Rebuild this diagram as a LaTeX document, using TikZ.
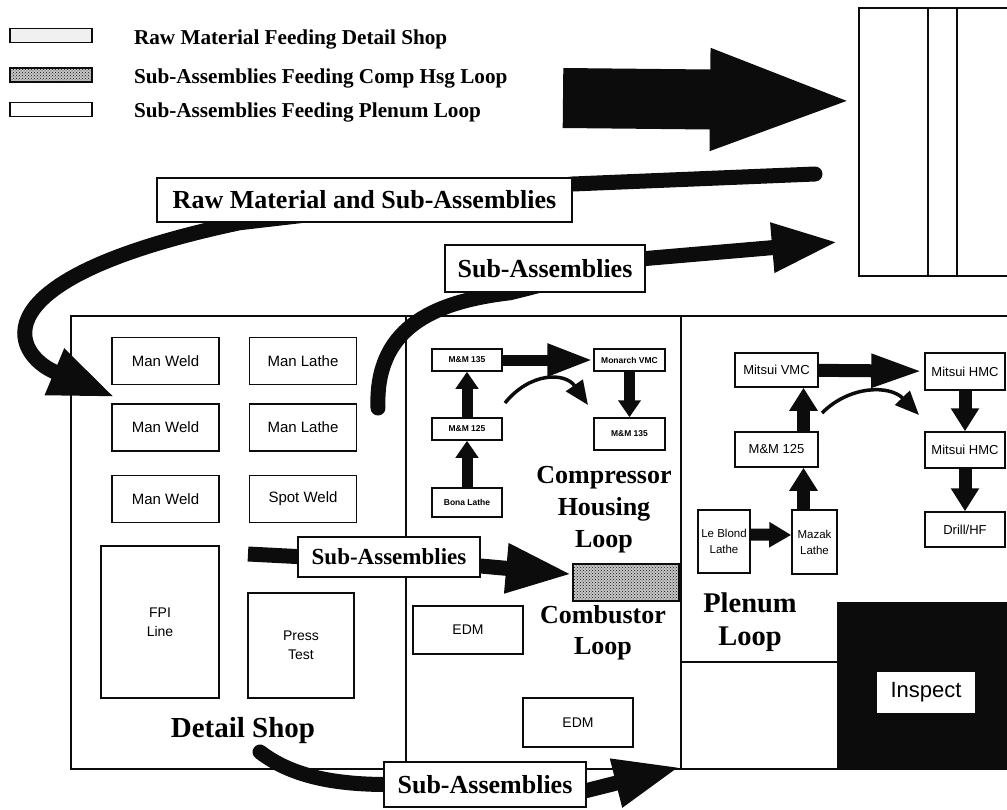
\documentclass[tikz,border=0pt]{standalone}
\usepackage{fontspec}
\setmainfont{Liberation Serif}
\newfontfamily\machfont{Liberation Sans}
\usepackage{tikz}
\usetikzlibrary{arrows.meta,positioning,patterns,calc}
\pgfdeclarelayer{background}
\pgfsetlayers{background,main}
\definecolor{inkblack}{RGB}{12,12,12}
\definecolor{speckgray}{RGB}{240,240,240}
\tikzset{
  zonebox/.style={rectangle, draw=inkblack, line width=2pt, inner sep=0pt, anchor=north west},
  machine/.style={rectangle, draw=inkblack, line width=1.5pt, fill=white, align=center, inner sep=0pt, font=\machfont\fontsize{15}{20}\selectfont},
  tinymachine/.style={machine, font=\machfont\bfseries\fontsize{8.5}{10}\selectfont},
  plenmachine/.style={machine, font=\machfont\fontsize{13}{16}\selectfont},
  flowlabel/.style={rectangle, draw=inkblack, line width=1.5pt, fill=white, inner xsep=10pt, font=\bfseries\fontsize{26}{28}\selectfont},
  zonetext/.style={align=center, inner sep=0pt, font=\bfseries\fontsize{26}{32}\selectfont},
  legendbox/.style={rectangle, draw=inkblack, line width=1.6pt, minimum width=82pt, minimum height=14pt, inner sep=0pt},
  legendtext/.style={anchor=west, inner sep=0pt, font=\bfseries\fontsize{21.2}{23}\selectfont},
  dotfill/.style={preaction={fill=black!22}, pattern=crosshatch dots, pattern color=inkblack},
  flow/.style={draw=inkblack, line width=15pt, line join=round, -{Triangle[length=66pt,width=46pt]}},
  blockarrow/.style={draw=inkblack, line width=11pt, -{Triangle[length=17pt,width=22pt]}},
  plenarrow/.style={draw=inkblack, line width=13pt, -{Triangle[length=23pt,width=27pt]}},
  thinarrow/.style={draw=inkblack, line width=3.5pt, -{Triangle[length=24pt,width=20pt]}}
}
\begin{document}
\begin{tikzpicture}[x=1pt, y=-1pt]
\useasboundingbox (0,0) rectangle (1007,809);
\clip (0,0) rectangle (1007,809);
% legend
\node[legendbox, fill=speckgray] (leg1) at (51,35.5) {};
\node[legendbox, dotfill] (leg2) at (51,75) {};
\node[legendbox] (leg3) at (51,109.5) {};
\node[legendtext, right=41pt of leg1, yshift=-4pt] (legt1) {Raw Material Feeding Detail Shop};
\node[legendtext, right=41pt of leg2, yshift=-3pt] (legt2) {Sub-Assemblies Feeding Comp Hsg Loop};
\node[legendtext, right=41pt of leg3, yshift=-3pt] (legt3) {Sub-Assemblies Feeding Plenum Loop};
% store and shop floor
\node[zonebox, minimum width=154pt, minimum height=268pt] (store) at (858,7) {};
\draw[inkblack, line width=2pt] ([xshift=70pt]store.north west) -- ([xshift=70pt]store.south west);
\draw[inkblack, line width=2pt] ([xshift=99pt]store.north west) -- ([xshift=99pt]store.south west);
\node[zonebox, minimum width=335pt, minimum height=453pt] (detailzone) at (70,315) {};
\node[zonebox, minimum width=275pt, minimum height=453pt] (compzone) at (405,315) {};
\node[zonebox, minimum width=332pt, minimum height=453pt] (plenzone) at (680,315) {};
\node[zonebox, fill=inkblack, minimum width=175pt, minimum height=166pt] (inspectzone) at (837,602) {};
\draw[inkblack, line width=2pt] (plenzone.west |- 0,662) -- (inspectzone.west |- 0,662);
\node[machine, draw=none, font=\machfont\fontsize{22}{24}\selectfont, minimum width=98pt, minimum height=41pt] (inspect) at (926,692.5) {Inspect};
\node[zonebox, line width=1.5pt, dotfill, minimum width=106pt, minimum height=37pt] (hatch) at (572,563) {};
% detail shop
\node[machine, minimum width=107pt, minimum height=47pt] (weld1) at (165.5,361) {Man Weld};
\node[machine, minimum width=107pt, minimum height=47pt, below=18pt of weld1] (weld2) {Man Weld};
\node[machine, minimum width=107pt, minimum height=47pt, below=23pt of weld2] (weld3) {Man Weld};
\node[machine, minimum width=107pt, minimum height=47pt, right=29pt of weld1] (lathe1) {Man Lathe};
\node[machine, minimum width=107pt, minimum height=47pt, right=29pt of weld2] (lathe2) {Man Lathe};
\node[machine, minimum width=107pt, minimum height=47pt, right=29pt of weld3] (spot) {Spot Weld};
\node[machine, font=\machfont\fontsize{14}{19}\selectfont, minimum width=118pt, minimum height=152pt] (fpi) at (160,622) {FPI\\Line};
\node[machine, font=\machfont\fontsize{14}{19}\selectfont, minimum width=106pt, minimum height=105pt] (press) at (301,645.5) {Press\\Test};
\node[zonetext, font=\bfseries\fontsize{29}{32}\selectfont] (dslbl) at (243,731) {Detail Shop};
% compressor housing loop
\node[tinymachine, minimum width=70pt, minimum height=22pt] (mm135a) at (467,360) {M\&M 135};
\node[tinymachine, minimum width=71pt, minimum height=22pt] (monarch) at (629.5,360) {Monarch VMC};
\node[tinymachine, minimum width=70pt, minimum height=22pt] (mm125) at (467,429) {M\&M 125};
\node[tinymachine, minimum width=71pt, minimum height=32pt] (mm135b) at (629.5,434) {M\&M 135};
\node[tinymachine, minimum width=70pt, minimum height=29pt] (bona) at (467,502.5) {Bona Lathe};
\node[machine, font=\machfont\fontsize{14}{16}\selectfont, minimum width=110pt, minimum height=48pt] (edm1) at (468,630) {EDM};
\node[machine, font=\machfont\fontsize{14}{16}\selectfont, minimum width=110pt, minimum height=49pt] (edm2) at (578,722.5) {EDM};
\node[zonetext] (chlbl) at (604,510) {Compressor\\Housing\\Loop};
\node[zonetext, font=\bfseries\fontsize{26}{31}\selectfont] (cblbl) at (603,633) {Combustor\\Loop};
% plenum loop
\node[plenmachine, minimum width=83pt, minimum height=34pt] (mvmc) at (776.5,370) {Mitsui VMC};
\node[plenmachine, minimum width=80pt, minimum height=37pt] (mhmc1) at (965,371.5) {Mitsui HMC};
\node[plenmachine, minimum width=80pt, minimum height=36pt] (mhmc2) at (965,450) {Mitsui HMC};
\node[plenmachine, minimum width=80pt, minimum height=35pt] (drill) at (965,529.5) {Drill/HF};
\node[plenmachine, minimum width=83pt, minimum height=35pt] (mm125p) at (776.5,449.5) {M\&M 125};
\node[plenmachine, font=\machfont\fontsize{11.5}{16}\selectfont, minimum width=52pt, minimum height=63pt] (leblond) at (724,541.5) {Le Blond\\Lathe};
\node[plenmachine, font=\machfont\fontsize{11.5}{16}\selectfont, minimum width=45pt, minimum height=64pt] (mazak) at (814.5,542) {Mazak\\Lathe};
\node[zonetext, font=\bfseries\fontsize{28.5}{33}\selectfont] (pllbl) at (750,622) {Plenum\\Loop};
% flow labels
\node[flowlabel, minimum width=415pt, minimum height=44pt] (rawlbl) at (364.5,200) {Raw Material and Sub-Assemblies};
\node[flowlabel, minimum width=200pt, minimum height=47pt] (salbl) at (545,268.5) {Sub-Assemblies};
\node[flowlabel, font=\bfseries\fontsize{23}{25}\selectfont, minimum width=182pt, minimum height=40pt] (midlbl) at (389,557) {Sub-Assemblies};
\node[flowlabel, minimum width=202pt, minimum height=45pt] (botlbl) at (485,784.5) {Sub-Assemblies};
% free ends
\coordinate (bigstart) at (563,98);
\coordinate (rawend) at (815,174);
\coordinate (rawbend) at (55,372);
\coordinate (sastart) at (378,408);
\coordinate (saend) at (838,242);
\coordinate (midstart) at (248,554);
\coordinate (botstart) at (260,752);
\coordinate (cloopa) at (505,403);
\coordinate (cloopb) at (588,405);
\coordinate (ploopa) at (822,413);
\coordinate (ploopb) at (919,415);
% material flows
\draw[inkblack, line width=60pt, -{Triangle[length=148pt,width=90pt]}] (bigstart) -- ([yshift=41pt]store.west);
\begin{pgfonlayer}{background}
\draw[flow, line cap=round] (rawend) -- ([yshift=16pt]rawlbl.east) -- ([xshift=-125pt]rawlbl.south) .. controls (-30,280) and (15,355) .. (rawbend) -- ([xshift=4pt,yshift=6pt]weld2.north west);
\draw[flow, line cap=round] (sastart) .. controls (375,330) and (430,302) .. ([xshift=-35pt]salbl.south) -- ([yshift=10pt]salbl.east) -- (saend);
\draw[flow] (midstart) -- ([yshift=-9pt]midlbl.east) -- ([yshift=8pt]hatch.west);
\draw[flow, line cap=round] (botstart) .. controls (290,775) and (330,784) .. (botlbl.west) -- ([yshift=-6pt]botlbl.east) -- ([yshift=3pt]plenzone.south west);
\end{pgfonlayer}
% machine moves
\draw[blockarrow, -{Triangle[length=46pt,width=30pt]}] (mm135a) -- (monarch);
\draw[blockarrow] (mm125) -- (mm135a);
\draw[blockarrow] (bona) -- (mm125);
\draw[blockarrow] (monarch) -- (mm135b);
\draw[thinarrow] (cloopa) .. controls (530,372) and (565,372) .. (cloopb);
\draw[plenarrow, -{Triangle[length=53pt,width=30pt]}] (mvmc) -- (mhmc1);
\draw[plenarrow] ([xshift=27pt]mm125p.north) -- ([xshift=27pt]mvmc.south);
\draw[plenarrow] ([xshift=-11pt]mazak.north) -- ([xshift=27pt]mm125p.south);
\draw[plenarrow, line width=12pt, -{Triangle[length=22pt,width=24pt]}] ([yshift=7pt]leblond.east) -- ([yshift=7pt]mazak.west);
\draw[plenarrow] (mhmc1) -- (mhmc2);
\draw[plenarrow] (mhmc2) -- (drill);
\draw[thinarrow] (ploopa) .. controls (850,385) and (890,385) .. (ploopb);
\end{tikzpicture}
\end{document}
